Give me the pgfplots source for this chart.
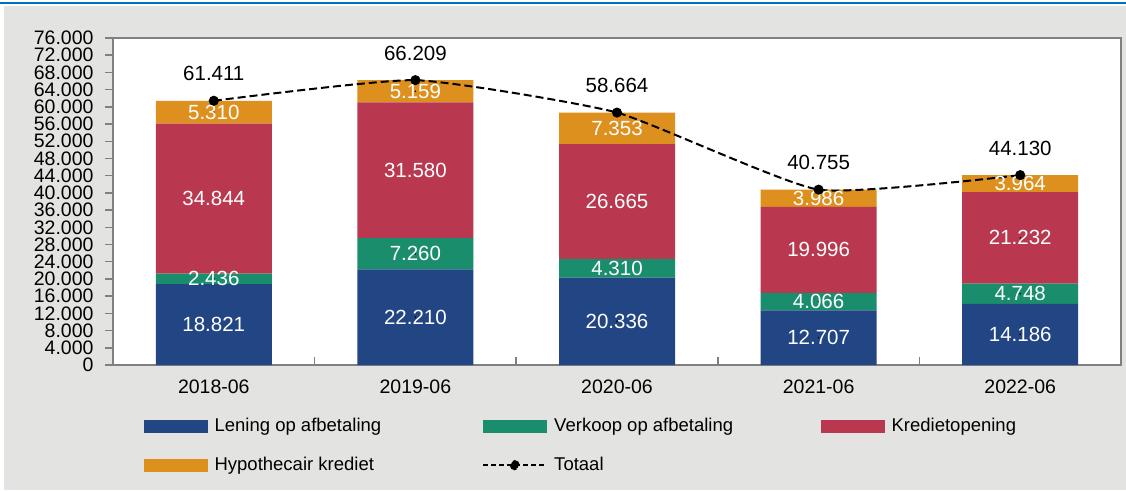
\documentclass[border=0pt]{standalone}
\usepackage{pgfplots}
\pgfplotsset{compat=1.18}
\usepackage{pgfplotstable}
\usepackage{fontspec}
\setmainfont{Liberation Sans}
\definecolor{cblue}{HTML}{224583}
\definecolor{cgreen}{HTML}{1A8E6C}
\definecolor{cred}{HTML}{B9384F}
\definecolor{corange}{HTML}{DD901E}
\definecolor{cbg}{HTML}{E3E3E1}
\definecolor{caxis}{HTML}{808080}
\definecolor{ctop}{HTML}{0070C0}
\pgfplotsset{/pgf/number format/.cd, 1000 sep={.}, assume math mode=true}

\pgfplotstableread{
x lening verkoop krediet hypo totaal
0 18821 2436 34844 5310 61411
1 22210 7260 31580 5159 66209
2 20336 4310 26665 7353 58664
3 12707 4066 19996 3986 40755
4 14186 4748 21232 3964 44130
}\data

\begin{document}
\begin{tikzpicture}
\useasboundingbox (0,0) rectangle (1126pt,490pt);
\fill[cbg] (4pt,0pt) rectangle (1126pt,484pt);
\draw[ctop, line width=1.6pt] (0pt,487pt) -- (1126pt,487pt);
\begin{axis}[
 at={(113pt,125pt)}, anchor=south west,
 scale only axis, width=1008pt, height=327pt,
 ybar stacked, bar width=116pt,
 xmin=-0.5, xmax=4.5, ymin=0, ymax=76000,
 axis background/.style={fill=white},
 axis line style={caxis, line width=1.5pt},
 ytick={0,4000,...,76000},
 scaled y ticks=false,
 xtick={0,1,2,3,4},
 xticklabels={2018-06,2019-06,2020-06,2021-06,2022-06},
 xtick pos=bottom, ytick pos=left,
 tick align=outside, major tick length=8pt,
 tick style={caxis, line width=1.5pt},
 major x tick style={draw=none},
 extra x ticks={0.5,1.5,2.5,3.5},
 extra x tick labels={},
 extra x tick style={tick align=inside, major x tick style={draw=caxis}},
 tick label style={font=\fontsize{19.5}{19.5}\selectfont},
 yticklabel style={xshift=-8pt, inner ysep=0pt},
 xticklabel style={yshift=-3pt},
]
\addplot[fill=cblue, draw=none] table[x=x,y=lening]{\data};
\addplot[fill=cgreen, draw=none] table[x=x,y=verkoop]{\data};
\addplot[fill=cred, draw=none] table[x=x,y=krediet]{\data};
\addplot[fill=corange, draw=none] table[x=x,y=hypo]{\data};
\end{axis}
\begin{axis}[
 at={(113pt,125pt)}, anchor=south west,
 scale only axis, width=1008pt, height=327pt,
 xmin=-0.5, xmax=4.5, ymin=0, ymax=76000,
 hide axis, clip=false,
 legend columns=3,
 legend cell align=left,
 legend style={at={(0.03075,-0.159)}, anchor=north west, draw=none, fill=none,
   inner sep=0pt, font=\fontsize{18.5}{18.5}\selectfont,
   nodes={inner sep=0pt, text height=14pt, text depth=4pt},
   row sep=21pt,
   /tikz/column 1/.append style={column sep=7pt},
   /tikz/column 2/.append style={column sep=101pt},
   /tikz/column 3/.append style={column sep=7pt},
   /tikz/column 4/.append style={column sep=88pt},
   /tikz/column 5/.append style={column sep=7pt}},
 lbl/.style={only marks, mark=*, mark size=0.5pt, mark options={draw=none, fill=none},
   nodes near coords, point meta=explicit, forget plot,
   every node near coord/.append style={anchor=center, text=white, font=\fontsize{20.5}{20.5}\selectfont}},
]
\addlegendimage{legend image code/.code={\fill[cblue] (0pt,-6pt) rectangle (63pt,6pt);}}
\addlegendentry{Lening op afbetaling}
\addlegendimage{legend image code/.code={\fill[cgreen] (0pt,-6pt) rectangle (63pt,6pt);}}
\addlegendentry{Verkoop op afbetaling}
\addlegendimage{legend image code/.code={\fill[cred] (0pt,-6pt) rectangle (63pt,6pt);}}
\addlegendentry{Kredietopening}
\addlegendimage{legend image code/.code={\fill[corange] (0pt,-6pt) rectangle (63pt,6pt);}}
\addlegendentry{Hypothecair krediet}
\addplot[lbl] table[x=x, y expr=\thisrow{lening}/2, meta=lening]{\data};
\addplot[lbl] table[x=x, y expr=\thisrow{lening}+\thisrow{verkoop}/2, meta=verkoop]{\data};
\addplot[lbl] table[x=x, y expr=\thisrow{lening}+\thisrow{verkoop}+\thisrow{krediet}/2, meta=krediet]{\data};
\addplot[lbl] table[x=x, y expr=\thisrow{lening}+\thisrow{verkoop}+\thisrow{krediet}+\thisrow{hypo}/2, meta=hypo]{\data};
\addplot[black, line width=2pt, dash pattern=on 8pt off 4pt, smooth, tension=0.3,
  mark=*, mark size=4pt, mark options={solid, fill=black},
  nodes near coords, point meta=explicit,
  every node near coord/.append style={anchor=center, yshift=27pt, text=black, font=\fontsize{20.5}{20.5}\selectfont},
  legend image code/.code={\draw[black, line width=2pt, dash pattern=on 5pt off 3pt] (0pt,0pt) -- (63pt,0pt); \fill[black] (31.5pt,0pt) circle (4pt);}]
  table[x=x, y=totaal, meta=totaal]{\data};
\addlegendentry{Totaal}
\end{axis}
\end{tikzpicture}
\end{document}
